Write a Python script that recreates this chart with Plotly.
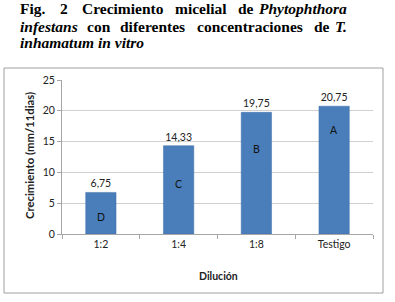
import plotly.graph_objects as go

categories = ["1:2", "1:4", "1:8", "Testigo"]
values = [6.75, 14.33, 19.75, 20.75]
value_labels = ["6,75", "14,33", "19,75", "20,75"]
letters = ["D", "C", "B", "A"]
letter_y = [2.7, 8.1, 13.8, 16.9]

W, H = 395, 302
# plot area in window pixels: x 62..373, y 80..234
L, R, T, B = 62, 395 - 373, 80, 302 - 234
pw, ph = W - L - R, H - T - B

def px(x):
    return (x - L) / pw

def py(y):
    return (H - B - y) / ph

FONT = "Lato"
fig = go.Figure()
fig.add_trace(go.Bar(
    x=categories, y=values,
    marker=dict(color="#4a7ebb", line=dict(color="#3f6fa8", width=0.5)),
    text=value_labels, textposition="outside",
    textfont=dict(family=FONT, size=10.5, color="#222"),
    cliponaxis=False, width=0.39, hoverinfo="skip",
))

for c, l, ly in zip(categories, letters, letter_y):
    fig.add_annotation(x=c, y=ly, text=l, showarrow=False,
                       font=dict(family=FONT, size=10.5, color="#111"))

# chart frame
fig.add_shape(type="rect", xref="paper", yref="paper",
              x0=px(4), x1=px(383), y0=py(293), y1=py(68),
              line=dict(color="#a0a0a0", width=1), layer="below")

# title, justified word by word
title_font = dict(family="Liberation Serif", size=15.5, color="black")
words = [
    (18, 9, "<b>Fig.</b>", "left"), (58, 9, "<b>2</b>", "left"),
    (80, 9, "<b>Crecimiento</b>", "left"), (173, 9, "<b>micelial</b>", "left"),
    (236, 9, "<b>de</b>", "left"), (349, 9, "<b><i>Phytophthora</i></b>", "right"),
    (18, 26, "<b><i>infestans</i></b>", "left"), (85, 26, "<b>con</b>", "left"),
    (118, 26, "<b>diferentes</b>", "left"), (195, 26, "<b>concentraciones</b>", "left"),
    (312, 26, "<b>de</b>", "left"), (349, 26, "<b><i>T.</i></b>", "right"),
    (18, 42, "<b><i>inhamatum in vitro</i></b>", "left"),
]
for x, y, t, anc in words:
    fig.add_annotation(xref="paper", yref="paper", x=px(x), y=py(y), text=t,
                       showarrow=False, xanchor=anc, yanchor="middle", font=title_font)

# axis titles
fig.add_annotation(xref="paper", yref="paper", x=px(219), y=py(276),
                   text="<b>Dilución</b>", showarrow=False, xanchor="center", yanchor="middle",
                   font=dict(family=FONT, size=10.5, color="#222"))
fig.add_annotation(xref="paper", yref="paper", x=px(29), y=py(156),
                   text="<b>Crecimiento (mm/11dias)</b>", showarrow=False, textangle=-90,
                   xanchor="center", yanchor="middle",
                   font=dict(family=FONT, size=11.3, color="#222"))

fig.update_layout(
    width=W, height=H,
    margin=dict(l=L, r=R, t=T, b=B, autoexpand=False),
    paper_bgcolor="white", plot_bgcolor="white",
    showlegend=False, hovermode=False,
    font=dict(family=FONT, size=10.5, color="#222"),
    xaxis=dict(
        showline=True, linecolor="#a6a6a6", ticks="outside", tickson="boundaries",
        ticklen=4, tickcolor="#a6a6a6", showgrid=False, automargin=False,
        tickfont=dict(family=FONT, size=10.5, color="#222"),
    ),
    yaxis=dict(
        range=[0, 25], dtick=5, showline=True, linecolor="#a6a6a6",
        ticks="outside", ticklen=4, tickcolor="#a6a6a6",
        gridcolor="#d0d0d0", gridwidth=1, zeroline=False, automargin=False,
        tickfont=dict(family=FONT, size=10.5, color="#222"),
    ),
)

fig.write_html(
    "out.html",
    config={"displayModeBar": False},
    post_script="document.body.style.margin='0';document.body.style.overflow='hidden';",
)
